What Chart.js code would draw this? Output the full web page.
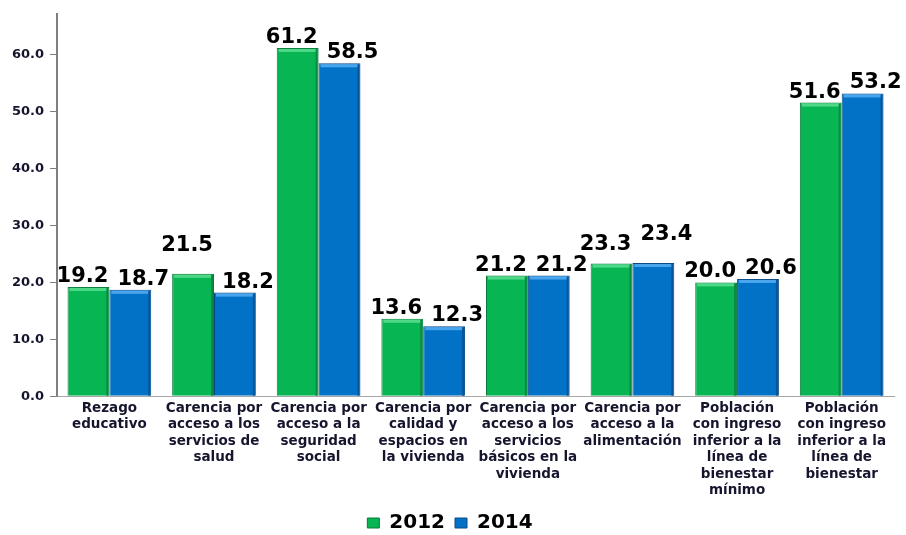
<!DOCTYPE html>
<html>
<head>
<meta charset="utf-8">
<script src="https://cdn.jsdelivr.net/npm/chart.js@4.4.1/dist/chart.umd.min.js"></script>
<style>
  html, body { margin: 0; padding: 0; background: #fff; }
  #wrap { width: 906px; height: 535px; }
</style>
</head>
<body>
<div id="wrap"><canvas id="chart" width="906" height="535"></canvas></div>
<script>
// categories (multi-line labels)
const categories = [
  ["Rezago", "educativo"],
  ["Carencia por", "acceso a los", "servicios de", "salud"],
  ["Carencia por", "acceso a la", "seguridad", "social"],
  ["Carencia por", "calidad y", "espacios en", "la vivienda"],
  ["Carencia por", "acceso a los", "servicios", "básicos en la", "vivienda"],
  ["Carencia por", "acceso a la", "alimentación"],
  ["Población", "con ingreso", "inferior a la", "línea de", "bienestar", "mínimo"],
  ["Población", "con ingreso", "inferior a la", "línea de", "bienestar"],
];
const seriesNames = ["2012", "2014"];
const values2012 = [19.2, 21.5, 61.2, 13.6, 21.2, 23.3, 20.0, 51.6];
const values2014 = [18.7, 18.2, 58.5, 12.3, 21.2, 23.4, 20.6, 53.2];
const yTicks = [0, 10, 20, 30, 40, 50, 60];

const GREEN = "#07b552";
const BLUE = "#0272c6";
const FONT = "'DejaVu Sans', Verdana, sans-serif";

// value labels above the bars
const barLabels = {
  id: "barLabels",
  afterDatasetsDraw(chart, args, opts) {
    const ctx = chart.ctx;
    ctx.save();
    ctx.font = "bold 21px " + FONT;
    ctx.fillStyle = "#000";
    ctx.textAlign = "center";
    ctx.textBaseline = "alphabetic";
    chart.data.datasets.forEach((ds, di) => {
      chart.getDatasetMeta(di).data.forEach((bar, i) => {
        const lift = (opts.lift[di] && opts.lift[di][i]) || 0;
        ctx.fillText(ds.data[i].toFixed(1), bar.x + opts.dx[di], bar.y - 5 - lift);
      });
    });
    ctx.restore();
  },
};

// simple bevel look: light top strip and dark right edge
const bevel = {
  id: "bevel",
  afterDatasetDraw(chart, args) {
    const ctx = chart.ctx;
    const ds = chart.data.datasets[args.index];
    ctx.save();
    args.meta.data.forEach((bar) => {
      const w = bar.width, l = bar.x - w / 2, t = bar.y, b = bar.base;
      ctx.fillStyle = ds.topColor;
      ctx.fillRect(l + 2, t + 1, w - 4, 3);
      ctx.fillStyle = ds.edgeColor;
      ctx.fillRect(l + w - 3, t + 1, 2, b - t - 1);
    });
    ctx.restore();
  },
};

const ctx = document.getElementById("chart").getContext("2d");
new Chart(ctx, {
  type: "bar",
  data: {
    labels: categories,
    datasets: [
      {
        label: seriesNames[0],
        data: values2012,
        backgroundColor: GREEN,
        borderColor: "#0a7a3c",
        borderWidth: 1,
        topColor: "#4fd888",
        edgeColor: "#0a8a42",
      },
      {
        label: seriesNames[1],
        data: values2014,
        backgroundColor: BLUE,
        borderColor: "#0b4a86",
        borderWidth: 1,
        topColor: "#4aa6ec",
        edgeColor: "#0a559a",
      },
    ],
  },
  options: {
    responsive: false,
    animation: false,
    layout: { padding: { left: 6, right: 12, top: 0, bottom: -8 } },
    datasets: { bar: { categoryPercentage: 0.8, barPercentage: 1.0 } },
    scales: {
      x: {
        grid: { display: false, drawTicks: false },
        border: { display: true, color: "#a6a6a6", width: 1 },
        ticks: {
          autoSkip: false,
          maxRotation: 0,
          minRotation: 0,
          padding: 4,
          color: "#15152e",
          font: { family: FONT, weight: "bold", size: 13.5, lineHeight: 1.22 },
        },
      },
      y: {
        min: 0,
        max: 67.2,
        afterBuildTicks: (axis) => {
          axis.ticks = yTicks.map((v) => ({ value: v }));
        },
        grid: { drawOnChartArea: false, tickLength: 7, color: "#7f7f7f" },
        border: { display: true, color: "#7f7f7f", width: 2 },
        ticks: {
          padding: 6,
          color: "#15152e",
          font: { family: FONT, weight: "bold", size: 13 },
          callback: (v) => Number(v).toFixed(1),
        },
      },
    },
    plugins: {
      legend: {
        position: "bottom",
        labels: {
          boxWidth: 12,
          boxHeight: 10,
          padding: 10,
          color: "#000",
          font: { family: FONT, weight: "bold", size: 20, lineHeight: 1.0 },
        },
      },
      tooltip: { enabled: false },
      barLabels: {
        dx: [-6, 13],
        lift: [
          [0, 18, 0, 0, 0, 9, 0, 0],
          [0, 0, 0, 0, 0, 18, 0, 0],
        ],
      },
    },
  },
  plugins: [bevel, barLabels],
});
</script>
</body>
</html>
